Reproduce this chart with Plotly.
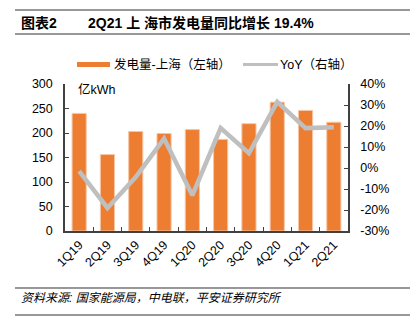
import plotly.graph_objects as go

# Quarterly Shanghai power generation (100 million kWh) and YoY growth (%)
quarters = ["1Q19", "2Q19", "3Q19", "4Q19", "1Q20", "2Q20", "3Q20", "4Q20", "1Q21", "2Q21"]
generation = [240, 156, 203, 199, 207, 187, 219, 263, 246, 222]
yoy = [-1.5, -19.0, -4.3, 14.0, -13.0, 19.0, 7.0, 31.5, 19.0, 19.4]

left_ticks = [0, 50, 100, 150, 200, 250, 300]
right_ticks = [-30, -20, -10, 0, 10, 20, 30, 40]

W, H = 410, 322
L, R, T, B = 65, 348, 84, 231  # plot area in pixels

def px(x):
    return (x - L) / (R - L)

def py(y):
    return (B - y) / (B - T)

ORANGE = "#ED7D31"
GREY = "#BFBFBF"
AXIS = "#404040"
LATIN = "Liberation Sans, Arial, Noto Sans CJK SC, sans-serif"
CJK = "Liberation Sans, Noto Sans CJK SC, sans-serif"

fig = go.Figure()
fig.add_trace(go.Bar(
    x=quarters, y=generation, name="发电量-上海（左轴）",
    marker=dict(color=ORANGE, line=dict(color="#F6C6A6", width=1)),
    width=0.5,
))
fig.add_trace(go.Scatter(
    x=quarters, y=yoy, name="YoY（右轴）", yaxis="y2", mode="lines",
    line=dict(color=GREY, width=4.5),
))

fig.update_layout(
    width=W, height=H,
    margin=dict(l=L, r=W - R, t=T, b=H - B, pad=0),
    paper_bgcolor="white", plot_bgcolor="white",
    showlegend=False,
    font=dict(family=LATIN, size=12, color="#000"),
    bargap=0.5,
    xaxis=dict(
        type="category", showgrid=False, showline=True, linecolor=AXIS, linewidth=1.5,
        ticks="inside", tickson="boundaries", ticklen=4, tickcolor=AXIS,
        tickangle=-45, tickfont=dict(size=12.5, family=LATIN),
    ),
    yaxis=dict(
        range=[0, 300], tickvals=left_ticks, showgrid=False, zeroline=False,
        showline=True, linecolor=AXIS, linewidth=1.5,
        ticks="inside", ticklen=4, tickcolor=AXIS, ticklabelstandoff=8,
        tickfont=dict(size=12.5, family=LATIN),
    ),
    yaxis2=dict(
        range=[-30, 40], tickvals=right_ticks, ticktext=[f"{v}%" for v in right_ticks],
        overlaying="y", side="right", showgrid=False, zeroline=False,
        showline=True, linecolor=AXIS, linewidth=1.5,
        ticks="inside", ticklen=4, tickcolor=AXIS, ticklabelstandoff=8,
        tickfont=dict(size=12.5, family=LATIN),
    ),
)

shapes = []
annotations = []

# Header and footer rules
for yline in (10, 34, 288, 315):
    shapes.append(dict(type="line", xref="paper", yref="paper",
                       x0=px(15), x1=px(W), y0=py(yline), y1=py(yline),
                       line=dict(color="#333", width=1.2)))

# Legend swatches
shapes.append(dict(type="rect", xref="paper", yref="paper",
                   x0=px(77), x1=px(110), y0=py(67), y1=py(62),
                   fillcolor=ORANGE, line=dict(width=0)))
shapes.append(dict(type="line", xref="paper", yref="paper",
                   x0=px(243), x1=px(278), y0=py(64.5), y1=py(64.5),
                   line=dict(color=GREY, width=3)))

annotations += [
    dict(text="<b>图表2</b>", x=px(19), y=py(22.5), xanchor="left", yanchor="middle",
         font=dict(family=CJK, size=14, color="#000")),
    dict(text="<b>2Q21 上 海市发电量同比增长 19.4%</b>", x=px(86), y=py(22.5),
         xanchor="left", yanchor="middle", font=dict(family=CJK, size=14, color="#000")),
    dict(text="发电量-上海（左轴）", x=px(112), y=py(64.5), xanchor="left", yanchor="middle",
         font=dict(family=CJK, size=12.5, color="#000")),
    dict(text="YoY（右轴）", x=px(278), y=py(64.5), xanchor="left", yanchor="middle",
         font=dict(family=CJK, size=12.5, color="#000")),
    dict(text="亿kWh", x=px(76), y=py(89.5), xanchor="left", yanchor="middle",
         font=dict(family=CJK, size=12.5, color="#000")),
    dict(text="<i>资料来源: 国家能源局，中电联，平安证券研究所</i>", x=px(19), y=py(297.5),
         xanchor="left", yanchor="middle", font=dict(family=CJK, size=12, color="#000")),
]
for a in annotations:
    a.update(xref="paper", yref="paper", showarrow=False)

fig.update_layout(shapes=shapes, annotations=annotations)
fig.write_html("out.html")
